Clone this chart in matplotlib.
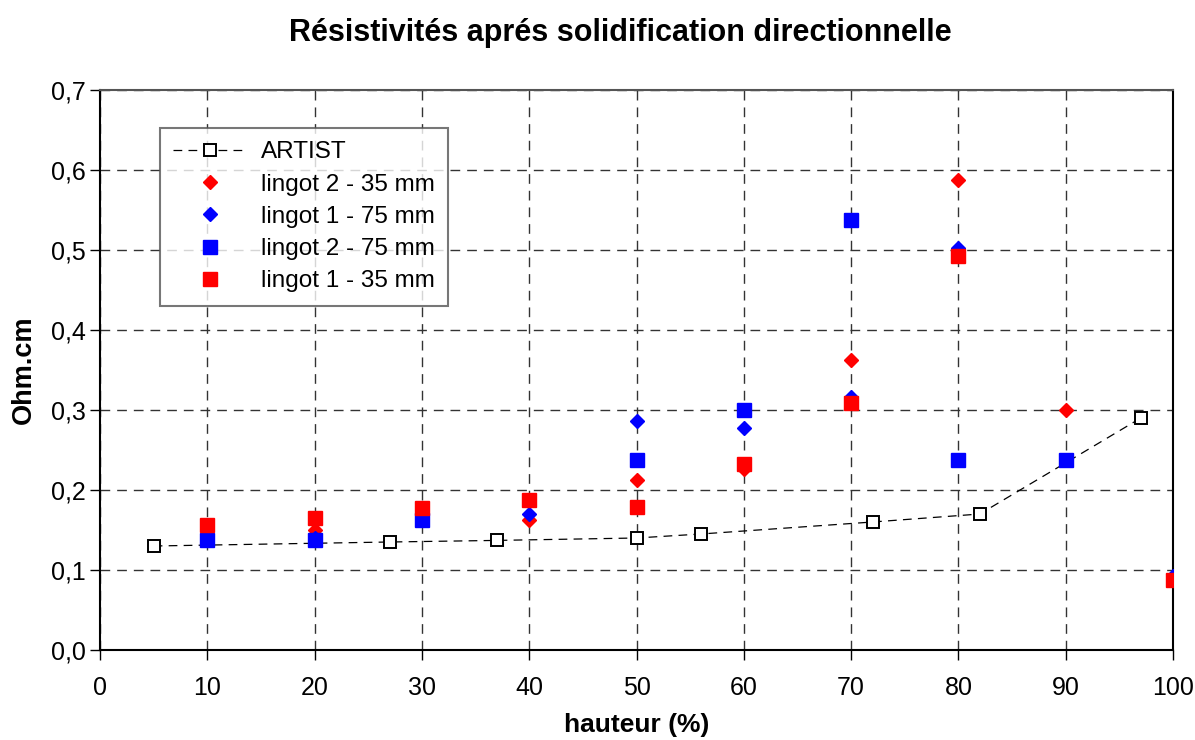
import numpy as np
import matplotlib
matplotlib.use("Agg")
import matplotlib.pyplot as plt

plt.rcParams['font.family'] = ['Liberation Sans', 'DejaVu Sans']

# ARTIST model curve
artist_x = [5, 27, 37, 50, 56, 72, 82, 97]
artist_y = [0.130, 0.135, 0.137, 0.140, 0.145, 0.160, 0.170, 0.290]

# lingot 2 - 35 mm (red diamonds)
l2_35_x = [20, 40, 50, 60, 70, 80, 90]
l2_35_y = [0.150, 0.162, 0.213, 0.226, 0.362, 0.587, 0.300]

# lingot 1 - 75 mm (blue diamonds)
l1_75_x = [20, 30, 40, 50, 60, 70, 80, 100]
l1_75_y = [0.140, 0.165, 0.170, 0.286, 0.278, 0.316, 0.502, 0.092]

# lingot 2 - 75 mm (blue squares)
l2_75_x = [10, 20, 30, 50, 60, 70, 80, 90]
l2_75_y = [0.137, 0.137, 0.162, 0.237, 0.300, 0.537, 0.237, 0.237]

# lingot 1 - 35 mm (red squares)
l1_35_x = [10, 20, 30, 40, 50, 60, 70, 80, 100]
l1_35_y = [0.156, 0.165, 0.177, 0.188, 0.179, 0.233, 0.309, 0.493, 0.087]

fig = plt.figure(figsize=(11.95, 7.4), dpi=100)
ax = fig.add_axes([100 / 1195, 90 / 740, 1073 / 1195, 560 / 740])

ax.plot(artist_x, artist_y, color="black", linestyle=(0, (7, 5)), linewidth=0.9,
        marker="s", markersize=9, markerfacecolor="white", markeredgecolor="black",
        markeredgewidth=1.4, label="ARTIST", zorder=3)
ax.plot(l2_35_x, l2_35_y, linestyle="none", marker="D", markersize=7,
        color="#ff0000", label="lingot 2 - 35 mm", zorder=4)
ax.plot(l1_75_x, l1_75_y, linestyle="none", marker="D", markersize=7,
        color="#0000ff", label="lingot 1 - 75 mm", zorder=5)
ax.plot(l2_75_x, l2_75_y, linestyle="none", marker="s", markersize=9.5,
        color="#0000ff", label="lingot 2 - 75 mm", zorder=6)
ax.plot(l1_35_x, l1_35_y, linestyle="none", marker="s", markersize=9.5,
        color="#ff0000", label="lingot 1 - 35 mm", zorder=7)

ax.set_xlim(0, 100)
ax.set_ylim(0, 0.7)
ax.set_xticks(np.arange(0, 101, 10))
ax.set_yticks(np.arange(0, 0.71, 0.1))
ax.set_yticklabels([f"{v:.1f}".replace(".", ",") for v in np.arange(0, 0.71, 0.1)])
ax.tick_params(direction="out", length=7, width=1, labelsize=18)
ax.tick_params(axis="x", pad=12)
ax.tick_params(axis="y", pad=3)

ax.grid(True, color="#333333", linestyle=(0, (7, 5)), linewidth=1)
ax.set_axisbelow(True)
for s in ["left", "bottom", "right"]:
    ax.spines[s].set_color("black")
    ax.spines[s].set_linewidth(1.5)
ax.spines["top"].set_color("#555555")
ax.spines["top"].set_linewidth(1.5)

for lbl in ax.get_xticklabels() + ax.get_yticklabels():
    lbl.set_clip_on(False)

ax.set_xlabel("hauteur (%)", fontsize=19, fontweight="bold", labelpad=9)
ax.set_ylabel("Ohm.cm", fontsize=19.5, fontweight="bold", labelpad=10)
fig.suptitle("Résistivités aprés solidification directionnelle", fontsize=22,
             fontweight="bold", x=0.519, y=0.975)

leg = ax.legend(loc="upper left", bbox_to_anchor=(0.056, 0.932), fontsize=17.5,
                frameon=True, fancybox=False, edgecolor="#555555",
                handlelength=3, handletextpad=0.6, borderpad=0.55,
                labelspacing=0.42, borderaxespad=0)
leg.get_frame().set_linewidth(1.5)

fig.savefig("out.png", dpi=100)
